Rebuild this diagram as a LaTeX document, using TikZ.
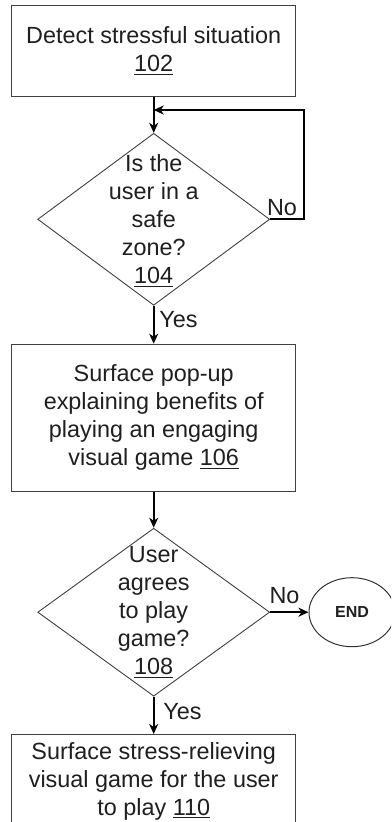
\documentclass[tikz,border=0pt]{standalone}
\usepackage{fontspec}
\setmainfont{Liberation Sans}
\usetikzlibrary{shapes.geometric,arrows.meta}
\newcommand\refnum[1]{\setbox0\hbox{#1}\rlap{\rule[-3.2pt]{\wd0}{1.3pt}}\box0}
\tikzset{
  txt/.style={font=\fontsize{23.4}{28}\selectfont, text=black!88, align=center, inner sep=0pt},
  boxnode/.style={txt, draw=black!75, line width=1pt, minimum width=284pt, inner sep=0pt},
  dianode/.style={shape=diamond, draw=black!75, line width=0.9pt, minimum width=232pt, minimum height=172pt, inner sep=0pt},
  endnode/.style={shape=ellipse, draw=black!80, line width=1pt, minimum width=86pt, minimum height=69pt, inner sep=0pt, font=\fontsize{16}{18}\selectfont\bfseries, text=black!88},
  arr/.style={draw=black, line width=1.8pt, -{Stealth[length=10pt,width=9pt,inset=3pt]}},
  lbl/.style={font=\fontsize{23.4}{28}\selectfont, text=black!88, inner sep=0pt}
}
\begin{document}
\begin{tikzpicture}[x=1pt,y=-1pt]
\clip (0,0) rectangle (391,822);
\fill[white] (0,0) rectangle (391,822);
\node[boxnode, minimum height=91pt] (b1) at (153.7,51) {Detect stressful situation\\\refnum{102}};
\node[dianode] (d1) at (153.7,219.3) {};
\node[txt] (d1t) at (153.7,221) {Is the\\user in a\\safe\\zone?\\\refnum{104}};
\node[boxnode, minimum height=147pt] (b2) at (153.7,417.7) {Surface pop-up\\explaining benefits of\\playing an engaging\\visual game \refnum{106}};
\node[dianode, minimum height=168pt] (d2) at (153.7,612.2) {};
\node[txt] (d2t) at (153.7,612.5) {User\\agrees\\to play\\game?\\\refnum{108}};
\node[endnode] (e) at (352,612.2) {END};
\node[boxnode, anchor=north, minimum height=100pt, text depth=0pt] (b3) at (153.7,734) {};
\node[txt] (b3t) at (153.7,781) {Surface stress-relieving\\visual game for the user\\to play \refnum{110}};
\coordinate (m1) at (153.7,110);
\draw[arr] (b1) -- (d1);
\draw[arr] (d1.east) -- ++(33.7,0) |- (m1);
\draw[arr] (d1) -- (b2);
\draw[arr] (b2) -- (d2);
\draw[arr] (d2.east) -- (e.west);
\draw[arr] (d2) -- (b3);
\node[lbl] (no1) at (282,208) {No};
\node[lbl] (yes1) at (178.5,320) {Yes};
\node[lbl] (no2) at (284.5,596) {No};
\node[lbl] (yes2) at (182.5,712) {Yes};
\end{tikzpicture}
\end{document}
